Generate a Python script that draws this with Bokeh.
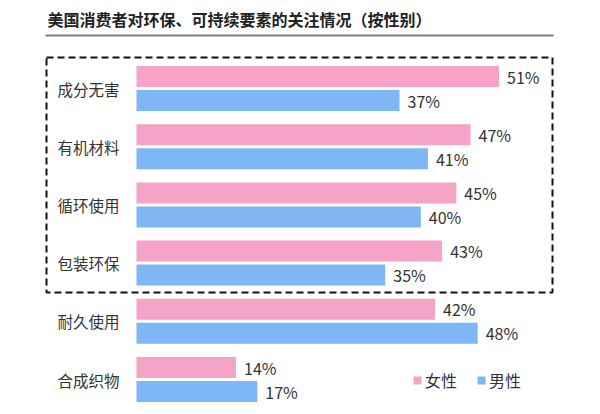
from bokeh.plotting import figure
from bokeh.models import Range1d, BoxAnnotation, Legend, LegendItem, ColumnDataSource
from bokeh.core.properties import value
from bokeh.embed import file_html
from bokeh.resources import INLINE

# data
title = "美国消费者对环保、可持续要素的关注情况（按性别）"
categories = ["成分无害", "有机材料", "循环使用", "包装环保", "耐久使用", "合成织物"]
female = [51, 47, 45, 43, 42, 14]
male = [37, 41, 40, 35, 48, 17]
series_names = ["女性", "男性"]

PINK = "#F5A3C7"
BLUE = "#7EB6F6"
TEXT = "#333333"
FONT = "Noto Sans CJK SC"

W, H = 584, 406
X0, XSCALE = 136, 7.108      # px of 0% and px per percent
Y0, YSTEP = 88, 58.2         # px of first group centre and group spacing


def sx(px):
    # screen px -> x data
    return (px - X0) / XSCALE


def sy(py):
    # screen px -> y data
    return (py - Y0) / YSTEP


p = figure(width=W, height=H, output_backend="svg", toolbar_location=None,
           x_range=Range1d(-X0 / XSCALE, (W - X0) / XSCALE),
           y_range=Range1d((H - Y0) / YSTEP, -Y0 / YSTEP),
           x_axis_location=None, y_axis_location=None,
           min_border=0, outline_line_color=None, background_fill_color="white")
p.grid.visible = False

idx = list(range(len(categories)))
bar_h = 21 / YSTEP
off = 12 / YSTEP

src = ColumnDataSource(dict(
    y_f=[i - off for i in idx], y_m=[i + off for i in idx],
    female=female, male=male, cat=categories,
    f_lbl=[f"{v}%" for v in female], m_lbl=[f"{v}%" for v in male],
    y=idx,
))

rf = p.hbar(y="y_f", left=0, right="female", height=bar_h, source=src,
            fill_color=PINK, line_color=None)
rm = p.hbar(y="y_m", left=0, right="male", height=bar_h, source=src,
            fill_color=BLUE, line_color=None)

p.text(x="female", y="y_f", text="f_lbl", source=src, x_offset=8,
       text_font=value(FONT), text_font_size="16px", text_color=TEXT,
       text_baseline="middle", text_align="left")
p.text(x="male", y="y_m", text="m_lbl", source=src, x_offset=8,
       text_font=value(FONT), text_font_size="16px", text_color=TEXT,
       text_baseline="middle", text_align="left")

# category labels
p.text(x=sx(57), y="y", text="cat", source=src,
       text_font=value(FONT), text_font_size="15.5px", text_color=TEXT,
       text_baseline="middle", text_align="left")

# title and separator
p.text(x=[sx(47)], y=[sy(18)], text=[title], text_font=value(FONT),
       text_font_size="16px", text_font_style="bold", text_color="#222222",
       text_baseline="middle", text_align="left")
p.line(x=[sx(45), sx(553)], y=[sy(35), sy(35)], line_color="#7f7f7f", line_width=2)

# dashed highlight box
p.add_layout(BoxAnnotation(left=sx(46), right=sx(552), top=sy(57), bottom=sy(292),
                           fill_color=None, fill_alpha=0, line_color="#111111",
                           line_alpha=1, line_width=2, line_dash="7 4"))

legend = Legend(items=[LegendItem(label=series_names[0], renderers=[rf]),
                       LegendItem(label=series_names[1], renderers=[rm])],
                orientation="horizontal", location=(412, 14),
                glyph_width=10, glyph_height=10, label_standoff=3, spacing=19,
                padding=0, margin=0, border_line_color=None,
                background_fill_alpha=0,
                label_text_font=FONT, label_text_font_size="16px",
                label_text_color=TEXT)
p.add_layout(legend)

open("out.html", "w").write(file_html(p, INLINE))
